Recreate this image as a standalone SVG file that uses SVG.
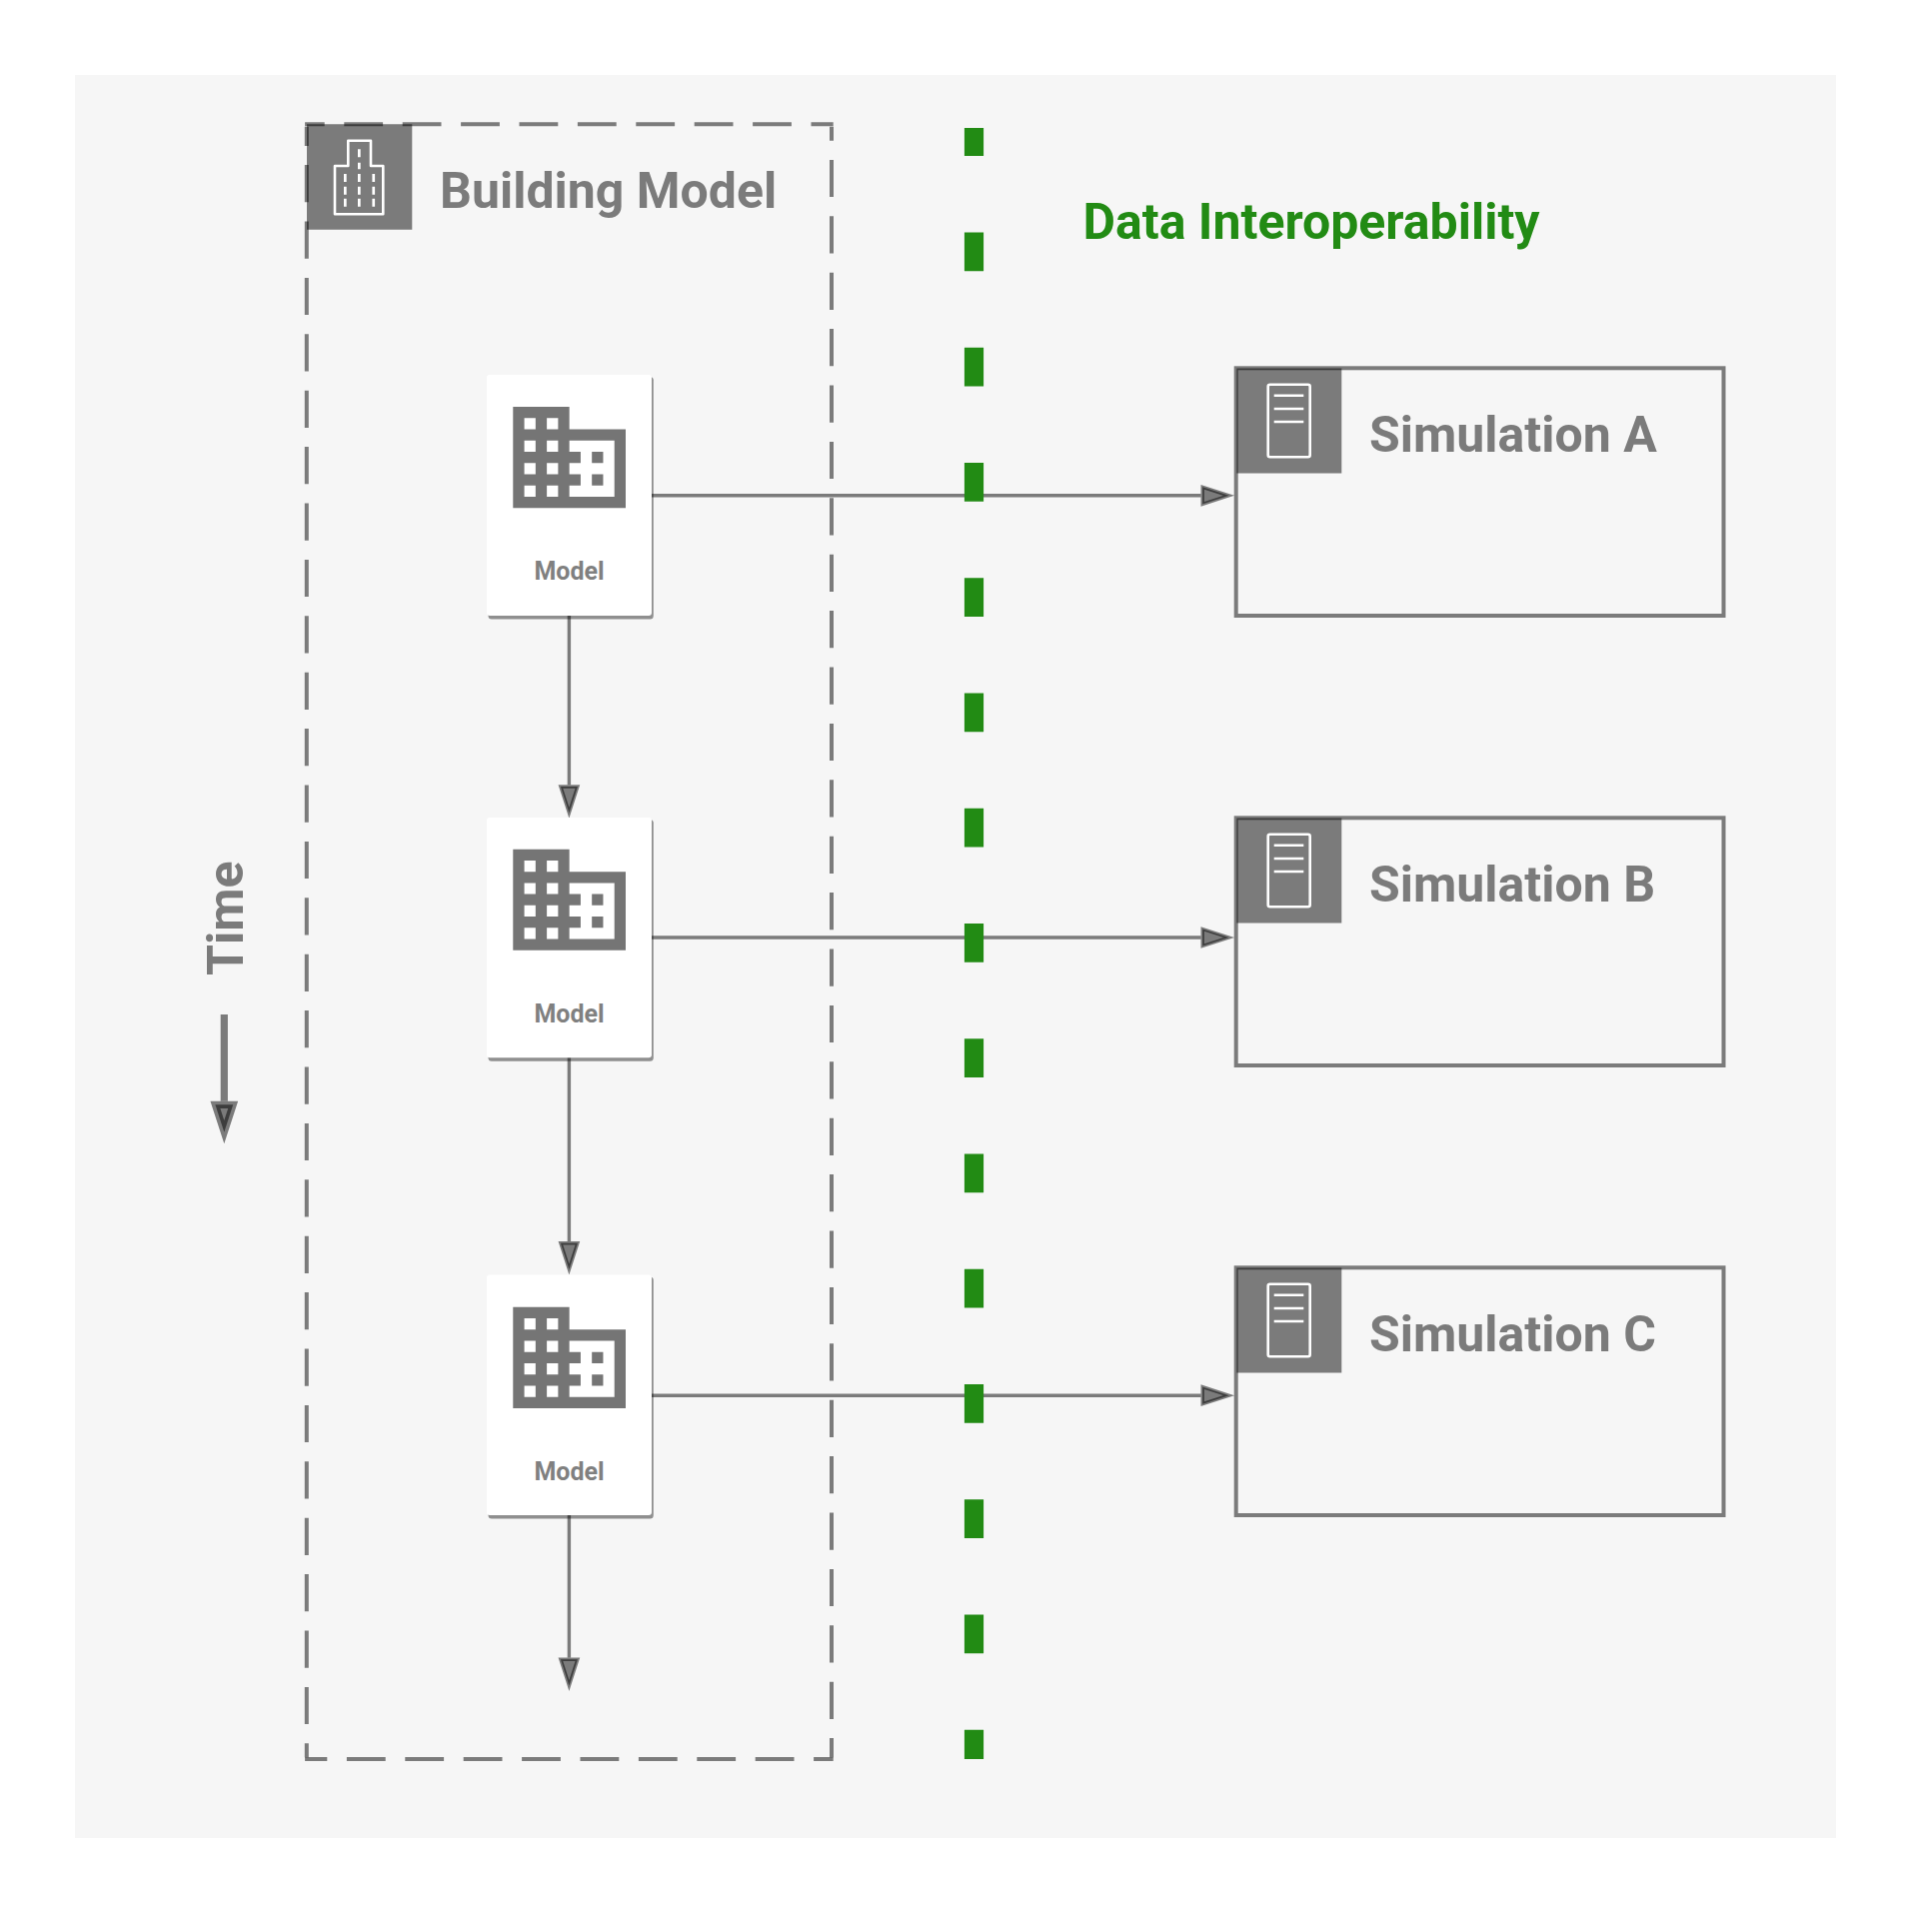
<svg xmlns="http://www.w3.org/2000/svg" width="1933" height="1913" viewBox="0 0 1933 1913">
<style>
.t{font-family:Roboto,"Liberation Sans",sans-serif;font-weight:700;fill:#7b7b7b}
.big{font-size:50px}
.model{font-size:25px;text-anchor:middle;fill:#808080}
.conn{fill:none;stroke:#000;stroke-opacity:.5;stroke-width:3.4}
.dash{fill:none;stroke:#000;stroke-opacity:.5;stroke-width:4}
.sq{fill:#000;fill-opacity:.5}
.box{fill:none;stroke:#000;stroke-opacity:.5;stroke-width:4}
.ic{fill:none;stroke:#fff;stroke-width:2.6;stroke-linejoin:round}
.card{fill:#fff}
.sh{fill:#000;fill-opacity:.42}
.bldg{fill:#757575;fill-rule:evenodd}
</style>
<defs>
<marker id="arrow" markerUnits="userSpaceOnUse" markerWidth="40" markerHeight="30" refX="0" refY="15" orient="auto" overflow="visible">
<path d="M1.7 6.5V23.5L28 15Z" fill="#000" fill-opacity=".5" stroke="#000" stroke-opacity=".5" stroke-width="3.4"/>
</marker>
<marker id="arrowTime" markerUnits="userSpaceOnUse" markerWidth="50" markerHeight="40" refX="0" refY="20" orient="auto" overflow="visible">
<path d="M3.6 11.1V28.9L31 20Z" fill="#000" fill-opacity=".5" stroke="#000" stroke-opacity=".5" stroke-width="7.2"/>
</marker>
<path id="domain" d="M12 7V3H2v18h20V7H12zM6 19H4v-2h2v2zm0-4H4v-2h2v2zm0-4H4V9h2v2zm0-4H4V5h2v2zm4 12H8v-2h2v2zm0-4H8v-2h2v2zm0-4H8V9h2v2zm0-4H8V5h2v2zm10 12h-8v-2h2v-2h-2v-2h2v-2h-2V9h8v10zm-2-8h-2v2h2v-2zm0 4h-2v2h2v-2z"/>
<g id="doc">
<path class="sq" d="M0 0H105V105H0Z"/>
<rect class="ic" x="31.4" y="16.2" width="42" height="72.6" rx="2"/>
<path class="ic" d="M37.4 27.2H67M37.4 40.5H67M37.4 53.5H67"/>
</g>
</defs>
<rect id="panel" x="75" y="75" width="1762" height="1764" fill="#f6f6f6"/>

<g transform="translate(0 1)">
<g id="connectors">
<path class="conn" d="M652 494.8H1201.5" marker-end="url(#arrow)"/>
<path class="conn" d="M652 937H1201.5" marker-end="url(#arrow)"/>
<path class="conn" d="M652 1395.2H1201.5" marker-end="url(#arrow)"/>
<path class="conn" d="M569.4 615V784.3" marker-end="url(#arrow)"/>
<path class="conn" d="M569.4 1057.3V1241" marker-end="url(#arrow)"/>
<path class="conn" d="M569.4 1515V1657.5" marker-end="url(#arrow)"/>
<path fill="none" stroke="#000" stroke-opacity=".5" stroke-width="7.2" d="M224.3 1014V1100.7" marker-end="url(#arrowTime)"/>
<path id="divider" fill="none" stroke="#228b14" stroke-width="19.2" stroke-dasharray="38.7 76.55" stroke-dashoffset="10.7" d="M974.5 127V1759"/>
</g>

<g id="building-model">
<path class="dash" stroke-dasharray="38.8 19.6" stroke-dashoffset="19.2" d="M305.1 123.2H833.7"/>
<path class="dash" stroke-dasharray="38.8 19.6" stroke-dashoffset="19.2" d="M833.7 1759H305.1"/>
<path class="dash" stroke-dasharray="37.2 19.2" stroke-dashoffset="18" d="M306.8 125.7V1757.3"/>
<path class="dash" stroke-dasharray="37.2 19.2" stroke-dashoffset="18" d="M832 1757.3V125.7"/>
<path class="sq" d="M307 123.2H412.3V228.7H307Z"/>
<path class="ic" d="M348.3 165V139.7H371V165H383.3V213.3H335V165Z"/>
<path fill="#fff" d="M358 148.3h2.7v8h-2.7zM358 161.7h2.7v6.6h-2.7zM344 173h2.7v8h-2.7zM358 173h2.7v8h-2.7zM372.4 173h2.7v8h-2.7zM344 185.7h2.7v8h-2.7zM358 185.7h2.7v8h-2.7zM372.4 185.7h2.7v8h-2.7zM344 197.7h2.7v8h-2.7zM358 197.7h2.7v8h-2.7zM372.4 197.7h2.7v8h-2.7z"/>
<text class="t big" x="440" y="207">Building Model</text>
</g>

<g id="time-label">
<text class="t big" transform="translate(242.7 975) rotate(-90)">Time</text>
</g>

<g id="data-interoperability">
<text x="1083.5" y="237.5" font-family="Roboto,'Liberation Sans',sans-serif" font-weight="700" font-size="50" fill="#228b14">Data Interoperability</text>
</g>

<g id="model-1">
<rect class="sh" x="488.5" y="376" width="165.3" height="242.5" rx="3.5"/>
<rect class="card" x="487" y="374" width="165" height="241" rx="3"/>
<use href="#domain" class="bldg" transform="translate(502.03 389.2) scale(5.635 5.62)"/>
<text class="t model" x="569.5" y="579.3">Model</text>
</g>
<g id="model-2">
<rect class="sh" x="488.5" y="819" width="165.3" height="241.8" rx="3.5"/>
<rect class="card" x="487" y="817" width="165" height="240.3" rx="3"/>
<use href="#domain" class="bldg" transform="translate(502.03 831.8) scale(5.635 5.62)"/>
<text class="t model" x="569.5" y="1021.7">Model</text>
</g>
<g id="model-3">
<rect class="sh" x="488.5" y="1276.5" width="165.3" height="242" rx="3.5"/>
<rect class="card" x="487" y="1274.5" width="165" height="240.5" rx="3"/>
<use href="#domain" class="bldg" transform="translate(502.03 1290) scale(5.635 5.62)"/>
<text class="t model" x="569.5" y="1480">Model</text>
</g>

<g id="simulation-a">
<rect class="box" x="1236.7" y="367.3" width="487.8" height="247.7"/>
<use href="#doc" transform="translate(1237.3 367.5)"/>
<text class="t big" x="1370" y="451.4">Simulation A</text>
</g>
<g id="simulation-b">
<rect class="box" x="1236.7" y="817.3" width="487.8" height="247.7"/>
<use href="#doc" transform="translate(1237.3 817.5)"/>
<text class="t big" x="1370" y="901.4">Simulation B</text>
</g>
<g id="simulation-c">
<rect class="box" x="1236.7" y="1267.3" width="487.8" height="247.7"/>
<use href="#doc" transform="translate(1237.3 1267.5)"/>
<text class="t big" x="1370" y="1351.4">Simulation C</text>
</g>
</g>
</svg>
